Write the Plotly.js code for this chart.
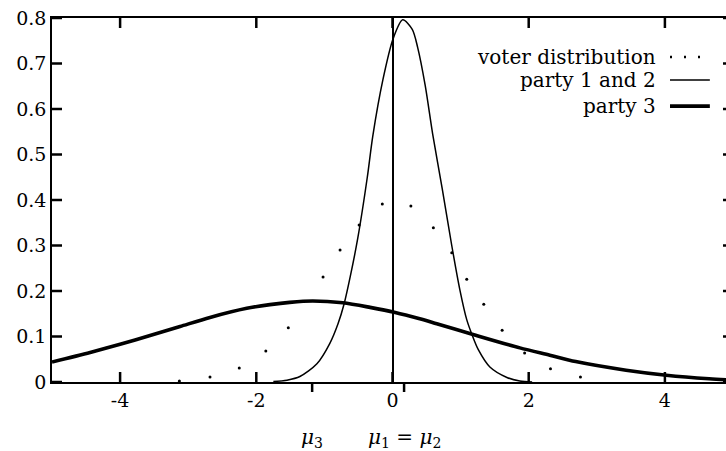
<!DOCTYPE html>
<html>
<head>
<meta charset="utf-8">
<script src="https://cdn.plot.ly/plotly-3.0.1.min.js"></script>
<style>
  html, body { margin: 0; padding: 0; overflow: hidden; background: #fff; }
  #chart { width: 737px; height: 451px; }
</style>
</head>
<body>
<div id="chart"></div>
<script>
// ---- data ----
const voterX = [-3.13, -2.68, -2.25, -1.86, -1.53, -1.02, -0.77, -0.49, -0.15, 0.27, 0.60, 0.87, 1.09, 1.34, 1.61, 1.94, 2.32, 2.76];
const voterY = [0.002, 0.011, 0.031, 0.068, 0.119, 0.231, 0.290, 0.345, 0.391, 0.387, 0.339, 0.284, 0.226, 0.171, 0.114, 0.064, 0.029, 0.011];

const party12X = [-1.75, -1.55, -1.36, -1.11, -0.92, -0.80, -0.71, -0.62, -0.51, -0.37, -0.29, -0.14, 0.01, 0.15, 0.29, 0.37, 0.48, 0.59, 0.73, 0.87, 0.99, 1.09, 1.17, 1.26, 1.43, 1.68, 1.87, 2.05];
const party12Y = [0.001, 0.004, 0.012, 0.040, 0.085, 0.128, 0.172, 0.232, 0.316, 0.450, 0.540, 0.665, 0.755, 0.796, 0.775, 0.735, 0.652, 0.545, 0.425, 0.300, 0.202, 0.137, 0.103, 0.071, 0.033, 0.010, 0.002, 0.000];

const party3X = [-5.0, -4.44, -4.0, -3.56, -3.12, -2.68, -2.14, -1.80, -1.51, -1.17, -0.73, -0.33, 0.04, 0.40, 0.65, 1.17, 1.87, 2.31, 2.69, 3.43, 4.02, 4.65, 5.0];
const party3Y = [0.044, 0.065, 0.083, 0.102, 0.122, 0.142, 0.162, 0.170, 0.175, 0.178, 0.174, 0.164, 0.153, 0.139, 0.128, 0.105, 0.075, 0.059, 0.045, 0.026, 0.015, 0.007, 0.004];

const muPositions = [-1.18, 0.17];
const muLabels = ['<i>μ</i><sub>3</sub>', '<i>μ</i><sub>1</sub> = <i>μ</i><sub>2</sub>'];

const xTickVals = [-4, -2, 0, 2, 4];
const xTickText = ['-4', '-2', '0', '2', '4'];
const yTickVals = [0, 0.1, 0.2, 0.3, 0.4, 0.5, 0.6, 0.7, 0.8];
const yTickText = ['0', '0.1', '0.2', '0.3', '0.4', '0.5', '0.6', '0.7', '0.8'];

const seriesNames = ['voter distribution', 'party 1 and 2', 'party 3'];

// ---- chart ----
const FONT = 'DejaVu Serif, Liberation Serif, serif';
const W = 737, H = 451;
const M = { l: 52, r: 4, t: 18, b: 69 };
const PLOT_W = W - M.l - M.r, PLOT_H = H - M.t - M.b;
const xRange = [-5, 5], yRange = [0, 0.8];
const TICK = 10;
const toPX = v => (v - xRange[0]) / (xRange[1] - xRange[0]);
const toPY = v => (v - yRange[0]) / (yRange[1] - yRange[0]);

const traces = [
  { x: party3X, y: party3Y, mode: 'lines', name: seriesNames[2],
    line: { color: '#000', width: 3.6, shape: 'spline', smoothing: 0.8 }, showlegend: false, hoverinfo: 'skip' },
  { x: party12X, y: party12Y, mode: 'lines', name: seriesNames[1],
    line: { color: '#000', width: 1.5, shape: 'spline', smoothing: 0.8 }, showlegend: false, hoverinfo: 'skip' },
  { x: voterX, y: voterY, mode: 'markers', name: seriesNames[0],
    marker: { color: '#000', size: 3 }, showlegend: false, hoverinfo: 'skip' }
];

const axisCommon = {
  showgrid: false, showline: true, linecolor: '#000', linewidth: 1.5,
  ticks: '', mirror: true, tickmode: 'array',
  tickfont: { family: FONT, size: 19, color: '#000' }
};

const legendRight = 0.89;
const sampleX0 = 0.9075, sampleX1 = 0.966;
const legendY = [0.893, 0.830, 0.758];

const annotations = seriesNames.map((n, i) => ({
  text: n, xref: 'paper', yref: 'paper', x: legendRight, y: legendY[i],
  xanchor: 'right', yanchor: 'middle', showarrow: false,
  font: { family: FONT, size: 20, color: '#000' }
})).concat(muPositions.map((m, i) => ({
  text: muLabels[i], xref: 'paper', yref: 'paper', x: toPX(m), y: -56 / PLOT_H,
  xanchor: 'center', yanchor: 'middle', showarrow: false,
  font: { family: FONT, size: 20, color: '#000' }
})));

const tickLine = { color: '#000', width: 2.5 };
const seg = (x0, x1, y0, y1) => ({ type: 'line', layer: 'above', xref: 'paper', yref: 'paper', x0, x1, y0, y1, line: tickLine });

const shapes = [
  { type: 'line', xref: 'paper', yref: 'paper', x0: sampleX0, x1: sampleX1, y0: legendY[0], y1: legendY[0],
    line: { color: '#000', width: 2.5, dash: '2px,12px' } },
  { type: 'line', xref: 'paper', yref: 'paper', x0: sampleX0, x1: sampleX1, y0: legendY[1], y1: legendY[1],
    line: { color: '#000', width: 1.5 } },
  { type: 'line', xref: 'paper', yref: 'paper', x0: sampleX0, x1: sampleX1, y0: legendY[2], y1: legendY[2],
    line: { color: '#000', width: 3.6 } }
]
  .concat(xTickVals.map(v => seg(toPX(v), toPX(v), 0, TICK / PLOT_H)))
  .concat(xTickVals.map(v => seg(toPX(v), toPX(v), 1, 1 - TICK / PLOT_H)))
  .concat(yTickVals.map(v => seg(0, TICK / PLOT_W, toPY(v), toPY(v))))
  .concat(yTickVals.map(v => seg(1, 1 - TICK / PLOT_W, toPY(v), toPY(v))))
  .concat(muPositions.map(m => seg(toPX(m), toPX(m), 0, -TICK / PLOT_H)));

const layout = {
  width: W, height: H,
  margin: M,
  paper_bgcolor: '#fff', plot_bgcolor: '#fff',
  font: { family: FONT, color: '#000' },
  xaxis: Object.assign({}, axisCommon, {
    range: xRange, tickvals: xTickVals, ticktext: xTickText,
    zeroline: true, zerolinecolor: '#000', zerolinewidth: 1.5
  }),
  yaxis: Object.assign({}, axisCommon, {
    range: yRange, tickvals: yTickVals, ticktext: yTickText,
    zeroline: false
  }),
  annotations: annotations,
  shapes: shapes
};

Plotly.newPlot('chart', traces, layout, { displayModeBar: false });
</script>
</body>
</html>
